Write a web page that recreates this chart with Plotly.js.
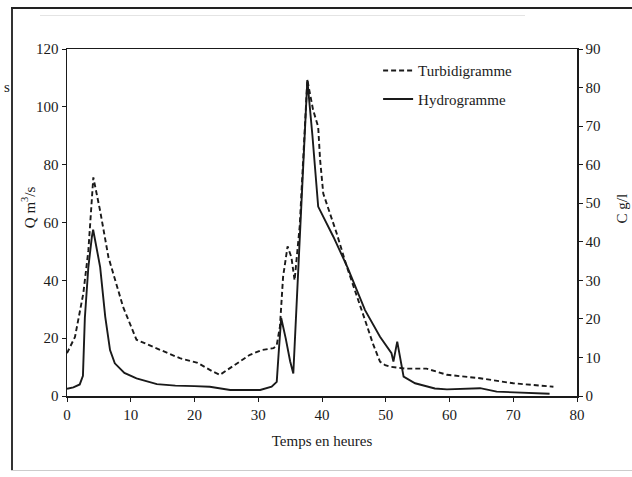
<!DOCTYPE html>
<html><head><meta charset="utf-8">
<script src="https://cdn.plot.ly/plotly-3.0.1.min.js"></script>
<style>
html,body{margin:0;padding:0;background:#fff}
#wrap{position:relative;width:632px;height:477px;overflow:hidden}
#chart{width:632px;height:477px}
.fr{position:absolute;pointer-events:none;z-index:10}
#fl{left:11px;top:7px;width:2px;height:464px;background:#333}
#ft{left:11px;top:7px;width:621px;height:2px;background:#222}
#fg{left:40px;top:15px;width:485px;height:1px;background:#e4e4e4}
#fb{left:11px;top:470px;width:621px;height:1px;background:#ccc}
</style>
</head><body><div id="wrap"><div id="chart"></div><div class="fr" id="fl"></div><div class="fr" id="ft"></div><div class="fr" id="fg"></div><div class="fr" id="fb"></div></div>
<script>
// Hydrogramme: time (h) and discharge Q (m3/s), left axis
const hydroTime = [0, 1, 2, 2.5, 2.8, 3.35, 3.9, 4.1, 5.2, 6, 6.75, 7.5, 9, 10.9, 14.1, 17, 20, 22.4, 25.6, 28, 30.3, 32.1, 32.9, 33.2, 33.6, 34.3, 35, 35.5, 37.7, 38.5, 39.4, 41.8, 44, 46.75, 49.1, 50.9, 51.2, 51.8, 52.8, 54.6, 57.7, 59.6, 62, 64.8, 67.4, 70, 72.6, 75.7];
const hydroQ    = [2.5, 3, 4, 7, 27, 44.6, 55, 57.5, 44.6, 27.4, 15.9, 11.3, 8, 6.1, 4.1, 3.6, 3.4, 3.2, 2.1, 2, 2.1, 3.2, 4.9, 14.8, 27, 20, 12, 7.8, 109.3, 90, 65.5, 55, 44.5, 29.7, 20.5, 14.8, 11.9, 18.8, 6.7, 4.4, 2.6, 2.3, 2.5, 2.7, 1.5, 1.3, 1.1, 0.8];
// Turbidigramme: time (h) and concentration C (g/l), right axis
const turbTime = [0, 1.25, 2.56, 3.35, 4.13, 5.2, 6.5, 8.8, 10.9, 14, 17.7, 20.5, 22.9, 24, 26.6, 28.7, 30.5, 32.4, 32.9, 33.4, 33.9, 34.6, 35.2, 35.7, 36.5, 37.7, 38.6, 39.4, 39.7, 40.2, 42.3, 43.9, 46.75, 48, 49.1, 49.9, 50.7, 53, 56.4, 59.6, 64.8, 70, 76.3];
const turbC    = [11.1, 15.3, 26.6, 37.7, 56.7, 48, 36, 23.1, 14.6, 12.4, 9.8, 8.6, 6.3, 5.5, 8.5, 10.7, 11.9, 12.4, 13.2, 18, 31, 38.8, 36, 30, 44, 82, 74.2, 69.8, 61.3, 52.5, 42.2, 33.5, 19.7, 13.5, 8.9, 8, 7.6, 7.1, 7.1, 5.5, 4.6, 3.3, 2.4];
const xTicks = [0, 10, 20, 30, 40, 50, 60, 70, 80];
const qTicks = [0, 20, 40, 60, 80, 100, 120];
const cTicks = [0, 10, 20, 30, 40, 50, 60, 70, 80, 90];

const ink = '#1a1a1a';
const serif = 'Liberation Serif, Times New Roman, serif';

const traces = [
  {x: turbTime, y: turbC, yaxis: 'y2', name: 'Turbidigramme', mode: 'lines',
   line: {color: ink, width: 1.9, dash: '5px,3px'}, legendgroup: 'a'},
  {x: hydroTime, y: hydroQ, yaxis: 'y', name: 'Hydrogramme', mode: 'lines',
   line: {color: ink, width: 1.9}, legendgroup: 'b'}
];

const axisCommon = {showgrid: false, zeroline: false, showline: true, linecolor: ink, linewidth: 1.5,
  ticks: 'outside', ticklen: 4, tickcolor: ink, tickfont: {family: serif, size: 15, color: ink}};

const layout = {
  width: 632, height: 477,
  margin: {l: 67, r: 55, t: 49, b: 81},
  paper_bgcolor: '#fff', plot_bgcolor: '#fff',
  showlegend: true,
  legend: {x: 0.61, y: 0.985, xanchor: 'left', yanchor: 'top', bgcolor: 'rgba(0,0,0,0)',
    font: {family: serif, size: 15, color: ink}, tracegroupgap: 6, itemwidth: 30},
  xaxis: Object.assign({}, axisCommon, {range: [0, 80], tickvals: xTicks, mirror: true,
    title: {text: 'Temps en heures', font: {family: serif, size: 15, color: ink}, standoff: 14}}),
  yaxis: Object.assign({}, axisCommon, {range: [0, 120], tickvals: qTicks}),
  yaxis2: Object.assign({}, axisCommon, {range: [0, 90], tickvals: cTicks, overlaying: 'y', side: 'right'}),
  annotations: [
    {xref: 'paper', yref: 'paper', x: -0.076, y: 0.545, xanchor: 'center', yanchor: 'middle', text: 'Q m<sup>3</sup>/s', textangle: -90,
     showarrow: false, font: {family: serif, size: 15, color: ink}},
    {xref: 'paper', yref: 'paper', x: 1.088, y: 0.54, xanchor: 'center', yanchor: 'middle', text: 'C g/l', textangle: -90,
     showarrow: false, font: {family: serif, size: 15, color: ink}},
    {xref: 'paper', yref: 'paper', x: -0.127, y: 0.92, xanchor: 'left', text: 's',
     showarrow: false, font: {family: serif, size: 15, color: ink}}
  ]
};

Plotly.newPlot('chart', traces, layout, {staticPlot: true});
</script></body></html>
